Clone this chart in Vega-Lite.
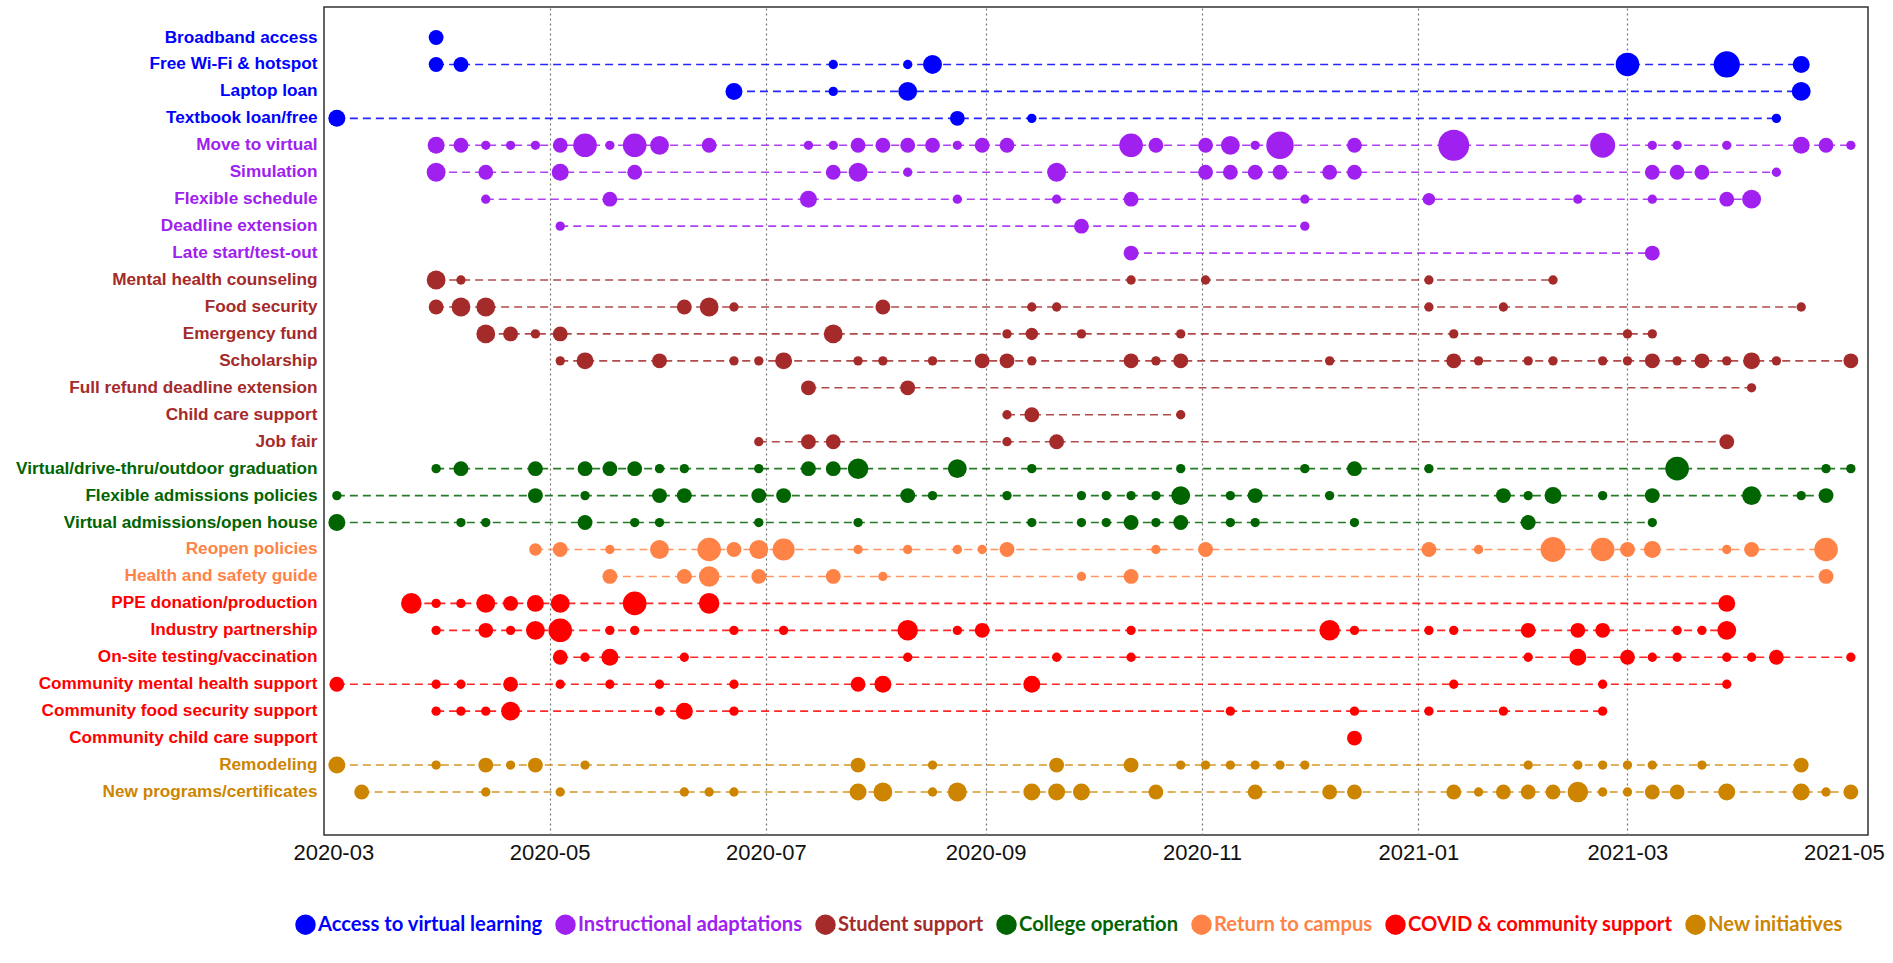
{
"$schema": "https://vega.github.io/schema/vega-lite/v6.json",
"width": 1544,
"height": 828,
"autosize": {"type": "none"},
"padding": {"left": 324, "top": 7, "right": 25, "bottom": 128},
"background": "white",
"config": {"view": {"stroke": "#333333", "strokeWidth": 1.5}},
"data": {"values": [
{"action":"Broadband access","date":"2020-03-30","n":3},
{"action":"Free Wi-Fi & hotspot","date":"2020-03-30","n":3},
{"action":"Free Wi-Fi & hotspot","date":"2020-04-06","n":3},
{"action":"Free Wi-Fi & hotspot","date":"2020-07-20","n":1},
{"action":"Free Wi-Fi & hotspot","date":"2020-08-10","n":1},
{"action":"Free Wi-Fi & hotspot","date":"2020-08-17","n":5},
{"action":"Free Wi-Fi & hotspot","date":"2021-03-01","n":8},
{"action":"Free Wi-Fi & hotspot","date":"2021-03-29","n":10},
{"action":"Free Wi-Fi & hotspot","date":"2021-04-19","n":4},
{"action":"Laptop loan","date":"2020-06-22","n":4},
{"action":"Laptop loan","date":"2020-07-20","n":1},
{"action":"Laptop loan","date":"2020-08-10","n":5},
{"action":"Laptop loan","date":"2021-04-19","n":5},
{"action":"Textbook loan/free","date":"2020-03-02","n":4},
{"action":"Textbook loan/free","date":"2020-08-24","n":3},
{"action":"Textbook loan/free","date":"2020-09-14","n":1},
{"action":"Textbook loan/free","date":"2021-04-12","n":1},
{"action":"Move to virtual","date":"2020-03-30","n":4},
{"action":"Move to virtual","date":"2020-04-06","n":3},
{"action":"Move to virtual","date":"2020-04-13","n":1},
{"action":"Move to virtual","date":"2020-04-20","n":1},
{"action":"Move to virtual","date":"2020-04-27","n":1},
{"action":"Move to virtual","date":"2020-05-04","n":3},
{"action":"Move to virtual","date":"2020-05-11","n":8},
{"action":"Move to virtual","date":"2020-05-18","n":1},
{"action":"Move to virtual","date":"2020-05-25","n":8},
{"action":"Move to virtual","date":"2020-06-01","n":5},
{"action":"Move to virtual","date":"2020-06-15","n":3},
{"action":"Move to virtual","date":"2020-07-13","n":1},
{"action":"Move to virtual","date":"2020-07-20","n":1},
{"action":"Move to virtual","date":"2020-07-27","n":3},
{"action":"Move to virtual","date":"2020-08-03","n":3},
{"action":"Move to virtual","date":"2020-08-10","n":3},
{"action":"Move to virtual","date":"2020-08-17","n":3},
{"action":"Move to virtual","date":"2020-08-24","n":1},
{"action":"Move to virtual","date":"2020-08-31","n":3},
{"action":"Move to virtual","date":"2020-09-07","n":3},
{"action":"Move to virtual","date":"2020-10-12","n":8},
{"action":"Move to virtual","date":"2020-10-19","n":3},
{"action":"Move to virtual","date":"2020-11-02","n":3},
{"action":"Move to virtual","date":"2020-11-09","n":5},
{"action":"Move to virtual","date":"2020-11-16","n":1},
{"action":"Move to virtual","date":"2020-11-23","n":11},
{"action":"Move to virtual","date":"2020-12-14","n":3},
{"action":"Move to virtual","date":"2021-01-11","n":14},
{"action":"Move to virtual","date":"2021-02-22","n":9},
{"action":"Move to virtual","date":"2021-03-08","n":1},
{"action":"Move to virtual","date":"2021-03-15","n":1},
{"action":"Move to virtual","date":"2021-03-29","n":1},
{"action":"Move to virtual","date":"2021-04-19","n":4},
{"action":"Move to virtual","date":"2021-04-26","n":3},
{"action":"Move to virtual","date":"2021-05-03","n":1},
{"action":"Simulation","date":"2020-03-30","n":5},
{"action":"Simulation","date":"2020-04-13","n":3},
{"action":"Simulation","date":"2020-05-04","n":4},
{"action":"Simulation","date":"2020-05-25","n":3},
{"action":"Simulation","date":"2020-07-20","n":3},
{"action":"Simulation","date":"2020-07-27","n":5},
{"action":"Simulation","date":"2020-08-10","n":1},
{"action":"Simulation","date":"2020-09-21","n":5},
{"action":"Simulation","date":"2020-11-02","n":3},
{"action":"Simulation","date":"2020-11-09","n":3},
{"action":"Simulation","date":"2020-11-16","n":3},
{"action":"Simulation","date":"2020-11-23","n":3},
{"action":"Simulation","date":"2020-12-07","n":3},
{"action":"Simulation","date":"2020-12-14","n":3},
{"action":"Simulation","date":"2021-03-08","n":3},
{"action":"Simulation","date":"2021-03-15","n":3},
{"action":"Simulation","date":"2021-03-22","n":3},
{"action":"Simulation","date":"2021-04-12","n":1},
{"action":"Flexible schedule","date":"2020-04-13","n":1},
{"action":"Flexible schedule","date":"2020-05-18","n":3},
{"action":"Flexible schedule","date":"2020-07-13","n":4},
{"action":"Flexible schedule","date":"2020-08-24","n":1},
{"action":"Flexible schedule","date":"2020-09-21","n":1},
{"action":"Flexible schedule","date":"2020-10-12","n":3},
{"action":"Flexible schedule","date":"2020-11-30","n":1},
{"action":"Flexible schedule","date":"2021-01-04","n":2},
{"action":"Flexible schedule","date":"2021-02-15","n":1},
{"action":"Flexible schedule","date":"2021-03-08","n":1},
{"action":"Flexible schedule","date":"2021-03-29","n":3},
{"action":"Flexible schedule","date":"2021-04-05","n":5},
{"action":"Deadline extension","date":"2020-05-04","n":1},
{"action":"Deadline extension","date":"2020-09-28","n":3},
{"action":"Deadline extension","date":"2020-11-30","n":1},
{"action":"Late start/test-out","date":"2020-10-12","n":3},
{"action":"Late start/test-out","date":"2021-03-08","n":3},
{"action":"Mental health counseling","date":"2020-03-30","n":5},
{"action":"Mental health counseling","date":"2020-04-06","n":1},
{"action":"Mental health counseling","date":"2020-10-12","n":1},
{"action":"Mental health counseling","date":"2020-11-02","n":1},
{"action":"Mental health counseling","date":"2021-01-04","n":1},
{"action":"Mental health counseling","date":"2021-02-08","n":1},
{"action":"Food security","date":"2020-03-30","n":3},
{"action":"Food security","date":"2020-04-06","n":5},
{"action":"Food security","date":"2020-04-13","n":5},
{"action":"Food security","date":"2020-06-08","n":3},
{"action":"Food security","date":"2020-06-15","n":5},
{"action":"Food security","date":"2020-06-22","n":1},
{"action":"Food security","date":"2020-08-03","n":3},
{"action":"Food security","date":"2020-09-14","n":1},
{"action":"Food security","date":"2020-09-21","n":1},
{"action":"Food security","date":"2021-01-04","n":1},
{"action":"Food security","date":"2021-01-25","n":1},
{"action":"Food security","date":"2021-04-19","n":1},
{"action":"Emergency fund","date":"2020-04-13","n":5},
{"action":"Emergency fund","date":"2020-04-20","n":3},
{"action":"Emergency fund","date":"2020-04-27","n":1},
{"action":"Emergency fund","date":"2020-05-04","n":3},
{"action":"Emergency fund","date":"2020-07-20","n":5},
{"action":"Emergency fund","date":"2020-09-07","n":1},
{"action":"Emergency fund","date":"2020-09-14","n":2},
{"action":"Emergency fund","date":"2020-09-28","n":1},
{"action":"Emergency fund","date":"2020-10-26","n":1},
{"action":"Emergency fund","date":"2021-01-11","n":1},
{"action":"Emergency fund","date":"2021-03-01","n":1},
{"action":"Emergency fund","date":"2021-03-08","n":1},
{"action":"Scholarship","date":"2020-05-04","n":1},
{"action":"Scholarship","date":"2020-05-11","n":4},
{"action":"Scholarship","date":"2020-06-01","n":3},
{"action":"Scholarship","date":"2020-06-22","n":1},
{"action":"Scholarship","date":"2020-06-29","n":1},
{"action":"Scholarship","date":"2020-07-06","n":4},
{"action":"Scholarship","date":"2020-07-27","n":1},
{"action":"Scholarship","date":"2020-08-03","n":1},
{"action":"Scholarship","date":"2020-08-17","n":1},
{"action":"Scholarship","date":"2020-08-31","n":3},
{"action":"Scholarship","date":"2020-09-07","n":3},
{"action":"Scholarship","date":"2020-09-14","n":1},
{"action":"Scholarship","date":"2020-10-12","n":3},
{"action":"Scholarship","date":"2020-10-19","n":1},
{"action":"Scholarship","date":"2020-10-26","n":3},
{"action":"Scholarship","date":"2020-12-07","n":1},
{"action":"Scholarship","date":"2021-01-11","n":3},
{"action":"Scholarship","date":"2021-01-18","n":1},
{"action":"Scholarship","date":"2021-02-01","n":1},
{"action":"Scholarship","date":"2021-02-08","n":1},
{"action":"Scholarship","date":"2021-02-22","n":1},
{"action":"Scholarship","date":"2021-03-01","n":1},
{"action":"Scholarship","date":"2021-03-08","n":3},
{"action":"Scholarship","date":"2021-03-15","n":1},
{"action":"Scholarship","date":"2021-03-22","n":3},
{"action":"Scholarship","date":"2021-03-29","n":1},
{"action":"Scholarship","date":"2021-04-05","n":4},
{"action":"Scholarship","date":"2021-04-12","n":1},
{"action":"Scholarship","date":"2021-05-03","n":3},
{"action":"Full refund deadline extension","date":"2020-07-13","n":3},
{"action":"Full refund deadline extension","date":"2020-08-10","n":3},
{"action":"Full refund deadline extension","date":"2021-04-05","n":1},
{"action":"Child care support","date":"2020-09-07","n":1},
{"action":"Child care support","date":"2020-09-14","n":3},
{"action":"Child care support","date":"2020-10-26","n":1},
{"action":"Job fair","date":"2020-06-29","n":1},
{"action":"Job fair","date":"2020-07-13","n":3},
{"action":"Job fair","date":"2020-07-20","n":3},
{"action":"Job fair","date":"2020-09-07","n":1},
{"action":"Job fair","date":"2020-09-21","n":3},
{"action":"Job fair","date":"2021-03-29","n":3},
{"action":"Virtual/drive-thru/outdoor graduation","date":"2020-03-30","n":1},
{"action":"Virtual/drive-thru/outdoor graduation","date":"2020-04-06","n":3},
{"action":"Virtual/drive-thru/outdoor graduation","date":"2020-04-27","n":3},
{"action":"Virtual/drive-thru/outdoor graduation","date":"2020-05-11","n":3},
{"action":"Virtual/drive-thru/outdoor graduation","date":"2020-05-18","n":3},
{"action":"Virtual/drive-thru/outdoor graduation","date":"2020-05-25","n":3},
{"action":"Virtual/drive-thru/outdoor graduation","date":"2020-06-01","n":1},
{"action":"Virtual/drive-thru/outdoor graduation","date":"2020-06-08","n":1},
{"action":"Virtual/drive-thru/outdoor graduation","date":"2020-06-29","n":1},
{"action":"Virtual/drive-thru/outdoor graduation","date":"2020-07-13","n":3},
{"action":"Virtual/drive-thru/outdoor graduation","date":"2020-07-20","n":3},
{"action":"Virtual/drive-thru/outdoor graduation","date":"2020-07-27","n":6},
{"action":"Virtual/drive-thru/outdoor graduation","date":"2020-08-24","n":5},
{"action":"Virtual/drive-thru/outdoor graduation","date":"2020-09-14","n":1},
{"action":"Virtual/drive-thru/outdoor graduation","date":"2020-10-26","n":1},
{"action":"Virtual/drive-thru/outdoor graduation","date":"2020-11-30","n":1},
{"action":"Virtual/drive-thru/outdoor graduation","date":"2020-12-14","n":3},
{"action":"Virtual/drive-thru/outdoor graduation","date":"2021-01-04","n":1},
{"action":"Virtual/drive-thru/outdoor graduation","date":"2021-03-15","n":8},
{"action":"Virtual/drive-thru/outdoor graduation","date":"2021-04-26","n":1},
{"action":"Virtual/drive-thru/outdoor graduation","date":"2021-05-03","n":1},
{"action":"Flexible admissions policies","date":"2020-03-02","n":1},
{"action":"Flexible admissions policies","date":"2020-04-27","n":3},
{"action":"Flexible admissions policies","date":"2020-05-11","n":1},
{"action":"Flexible admissions policies","date":"2020-06-01","n":3},
{"action":"Flexible admissions policies","date":"2020-06-08","n":3},
{"action":"Flexible admissions policies","date":"2020-06-29","n":3},
{"action":"Flexible admissions policies","date":"2020-07-06","n":3},
{"action":"Flexible admissions policies","date":"2020-08-10","n":3},
{"action":"Flexible admissions policies","date":"2020-08-17","n":1},
{"action":"Flexible admissions policies","date":"2020-09-07","n":1},
{"action":"Flexible admissions policies","date":"2020-09-28","n":1},
{"action":"Flexible admissions policies","date":"2020-10-05","n":1},
{"action":"Flexible admissions policies","date":"2020-10-12","n":1},
{"action":"Flexible admissions policies","date":"2020-10-19","n":1},
{"action":"Flexible admissions policies","date":"2020-10-26","n":5},
{"action":"Flexible admissions policies","date":"2020-11-09","n":1},
{"action":"Flexible admissions policies","date":"2020-11-16","n":3},
{"action":"Flexible admissions policies","date":"2020-12-07","n":1},
{"action":"Flexible admissions policies","date":"2021-01-25","n":3},
{"action":"Flexible admissions policies","date":"2021-02-01","n":1},
{"action":"Flexible admissions policies","date":"2021-02-08","n":4},
{"action":"Flexible admissions policies","date":"2021-02-22","n":1},
{"action":"Flexible admissions policies","date":"2021-03-08","n":3},
{"action":"Flexible admissions policies","date":"2021-04-05","n":5},
{"action":"Flexible admissions policies","date":"2021-04-19","n":1},
{"action":"Flexible admissions policies","date":"2021-04-26","n":3},
{"action":"Virtual admissions/open house","date":"2020-03-02","n":4},
{"action":"Virtual admissions/open house","date":"2020-04-06","n":1},
{"action":"Virtual admissions/open house","date":"2020-04-13","n":1},
{"action":"Virtual admissions/open house","date":"2020-05-11","n":3},
{"action":"Virtual admissions/open house","date":"2020-05-25","n":1},
{"action":"Virtual admissions/open house","date":"2020-06-01","n":1},
{"action":"Virtual admissions/open house","date":"2020-06-29","n":1},
{"action":"Virtual admissions/open house","date":"2020-07-27","n":1},
{"action":"Virtual admissions/open house","date":"2020-09-14","n":1},
{"action":"Virtual admissions/open house","date":"2020-09-28","n":1},
{"action":"Virtual admissions/open house","date":"2020-10-05","n":1},
{"action":"Virtual admissions/open house","date":"2020-10-12","n":3},
{"action":"Virtual admissions/open house","date":"2020-10-19","n":1},
{"action":"Virtual admissions/open house","date":"2020-10-26","n":3},
{"action":"Virtual admissions/open house","date":"2020-11-09","n":1},
{"action":"Virtual admissions/open house","date":"2020-11-16","n":1},
{"action":"Virtual admissions/open house","date":"2020-12-14","n":1},
{"action":"Virtual admissions/open house","date":"2021-02-01","n":3},
{"action":"Virtual admissions/open house","date":"2021-03-08","n":1},
{"action":"Reopen policies","date":"2020-04-27","n":2},
{"action":"Reopen policies","date":"2020-05-04","n":3},
{"action":"Reopen policies","date":"2020-05-18","n":1},
{"action":"Reopen policies","date":"2020-06-01","n":5},
{"action":"Reopen policies","date":"2020-06-15","n":8},
{"action":"Reopen policies","date":"2020-06-22","n":3},
{"action":"Reopen policies","date":"2020-06-29","n":5},
{"action":"Reopen policies","date":"2020-07-06","n":7},
{"action":"Reopen policies","date":"2020-07-27","n":1},
{"action":"Reopen policies","date":"2020-08-10","n":1},
{"action":"Reopen policies","date":"2020-08-24","n":1},
{"action":"Reopen policies","date":"2020-08-31","n":1},
{"action":"Reopen policies","date":"2020-09-07","n":3},
{"action":"Reopen policies","date":"2020-10-19","n":1},
{"action":"Reopen policies","date":"2020-11-02","n":3},
{"action":"Reopen policies","date":"2021-01-04","n":3},
{"action":"Reopen policies","date":"2021-01-18","n":1},
{"action":"Reopen policies","date":"2021-02-08","n":9},
{"action":"Reopen policies","date":"2021-02-22","n":8},
{"action":"Reopen policies","date":"2021-03-01","n":3},
{"action":"Reopen policies","date":"2021-03-08","n":4},
{"action":"Reopen policies","date":"2021-03-29","n":1},
{"action":"Reopen policies","date":"2021-04-05","n":3},
{"action":"Reopen policies","date":"2021-04-26","n":8},
{"action":"Health and safety guide","date":"2020-05-18","n":3},
{"action":"Health and safety guide","date":"2020-06-08","n":3},
{"action":"Health and safety guide","date":"2020-06-15","n":6},
{"action":"Health and safety guide","date":"2020-06-29","n":3},
{"action":"Health and safety guide","date":"2020-07-20","n":3},
{"action":"Health and safety guide","date":"2020-08-03","n":1},
{"action":"Health and safety guide","date":"2020-09-28","n":1},
{"action":"Health and safety guide","date":"2020-10-12","n":3},
{"action":"Health and safety guide","date":"2021-04-26","n":3},
{"action":"PPE donation/production","date":"2020-03-23","n":6},
{"action":"PPE donation/production","date":"2020-03-30","n":1},
{"action":"PPE donation/production","date":"2020-04-06","n":1},
{"action":"PPE donation/production","date":"2020-04-13","n":5},
{"action":"PPE donation/production","date":"2020-04-20","n":3},
{"action":"PPE donation/production","date":"2020-04-27","n":4},
{"action":"PPE donation/production","date":"2020-05-04","n":5},
{"action":"PPE donation/production","date":"2020-05-25","n":8},
{"action":"PPE donation/production","date":"2020-06-15","n":6},
{"action":"PPE donation/production","date":"2021-03-29","n":4},
{"action":"Industry partnership","date":"2020-03-30","n":1},
{"action":"Industry partnership","date":"2020-04-13","n":3},
{"action":"Industry partnership","date":"2020-04-20","n":1},
{"action":"Industry partnership","date":"2020-04-27","n":5},
{"action":"Industry partnership","date":"2020-05-04","n":8},
{"action":"Industry partnership","date":"2020-05-18","n":1},
{"action":"Industry partnership","date":"2020-05-25","n":1},
{"action":"Industry partnership","date":"2020-06-22","n":1},
{"action":"Industry partnership","date":"2020-07-06","n":1},
{"action":"Industry partnership","date":"2020-08-10","n":6},
{"action":"Industry partnership","date":"2020-08-24","n":1},
{"action":"Industry partnership","date":"2020-08-31","n":3},
{"action":"Industry partnership","date":"2020-10-12","n":1},
{"action":"Industry partnership","date":"2020-12-07","n":6},
{"action":"Industry partnership","date":"2020-12-14","n":1},
{"action":"Industry partnership","date":"2021-01-04","n":1},
{"action":"Industry partnership","date":"2021-01-11","n":1},
{"action":"Industry partnership","date":"2021-02-01","n":3},
{"action":"Industry partnership","date":"2021-02-15","n":3},
{"action":"Industry partnership","date":"2021-02-22","n":3},
{"action":"Industry partnership","date":"2021-03-15","n":1},
{"action":"Industry partnership","date":"2021-03-22","n":1},
{"action":"Industry partnership","date":"2021-03-29","n":5},
{"action":"On-site testing/vaccination","date":"2020-05-04","n":3},
{"action":"On-site testing/vaccination","date":"2020-05-11","n":1},
{"action":"On-site testing/vaccination","date":"2020-05-18","n":4},
{"action":"On-site testing/vaccination","date":"2020-06-08","n":1},
{"action":"On-site testing/vaccination","date":"2020-08-10","n":1},
{"action":"On-site testing/vaccination","date":"2020-09-21","n":1},
{"action":"On-site testing/vaccination","date":"2020-10-12","n":1},
{"action":"On-site testing/vaccination","date":"2021-02-01","n":1},
{"action":"On-site testing/vaccination","date":"2021-02-15","n":4},
{"action":"On-site testing/vaccination","date":"2021-03-01","n":3},
{"action":"On-site testing/vaccination","date":"2021-03-08","n":1},
{"action":"On-site testing/vaccination","date":"2021-03-15","n":1},
{"action":"On-site testing/vaccination","date":"2021-03-29","n":1},
{"action":"On-site testing/vaccination","date":"2021-04-05","n":1},
{"action":"On-site testing/vaccination","date":"2021-04-12","n":3},
{"action":"On-site testing/vaccination","date":"2021-05-03","n":1},
{"action":"Community mental health support","date":"2020-03-02","n":3},
{"action":"Community mental health support","date":"2020-03-30","n":1},
{"action":"Community mental health support","date":"2020-04-06","n":1},
{"action":"Community mental health support","date":"2020-04-20","n":3},
{"action":"Community mental health support","date":"2020-05-04","n":1},
{"action":"Community mental health support","date":"2020-05-18","n":1},
{"action":"Community mental health support","date":"2020-06-01","n":1},
{"action":"Community mental health support","date":"2020-06-22","n":1},
{"action":"Community mental health support","date":"2020-07-27","n":3},
{"action":"Community mental health support","date":"2020-08-03","n":4},
{"action":"Community mental health support","date":"2020-09-14","n":4},
{"action":"Community mental health support","date":"2021-01-11","n":1},
{"action":"Community mental health support","date":"2021-02-22","n":1},
{"action":"Community mental health support","date":"2021-03-29","n":1},
{"action":"Community food security support","date":"2020-03-30","n":1},
{"action":"Community food security support","date":"2020-04-06","n":1},
{"action":"Community food security support","date":"2020-04-13","n":1},
{"action":"Community food security support","date":"2020-04-20","n":5},
{"action":"Community food security support","date":"2020-06-01","n":1},
{"action":"Community food security support","date":"2020-06-08","n":4},
{"action":"Community food security support","date":"2020-06-22","n":1},
{"action":"Community food security support","date":"2020-11-09","n":1},
{"action":"Community food security support","date":"2020-12-14","n":1},
{"action":"Community food security support","date":"2021-01-04","n":1},
{"action":"Community food security support","date":"2021-01-25","n":1},
{"action":"Community food security support","date":"2021-02-22","n":1},
{"action":"Community child care support","date":"2020-12-14","n":3},
{"action":"Remodeling","date":"2020-03-02","n":4},
{"action":"Remodeling","date":"2020-03-30","n":1},
{"action":"Remodeling","date":"2020-04-13","n":3},
{"action":"Remodeling","date":"2020-04-20","n":1},
{"action":"Remodeling","date":"2020-04-27","n":3},
{"action":"Remodeling","date":"2020-05-11","n":1},
{"action":"Remodeling","date":"2020-07-27","n":3},
{"action":"Remodeling","date":"2020-08-17","n":1},
{"action":"Remodeling","date":"2020-09-21","n":3},
{"action":"Remodeling","date":"2020-10-12","n":3},
{"action":"Remodeling","date":"2020-10-26","n":1},
{"action":"Remodeling","date":"2020-11-02","n":1},
{"action":"Remodeling","date":"2020-11-09","n":1},
{"action":"Remodeling","date":"2020-11-16","n":1},
{"action":"Remodeling","date":"2020-11-23","n":1},
{"action":"Remodeling","date":"2020-11-30","n":1},
{"action":"Remodeling","date":"2021-02-01","n":1},
{"action":"Remodeling","date":"2021-02-15","n":1},
{"action":"Remodeling","date":"2021-02-22","n":1},
{"action":"Remodeling","date":"2021-03-01","n":1},
{"action":"Remodeling","date":"2021-03-08","n":1},
{"action":"Remodeling","date":"2021-03-22","n":1},
{"action":"Remodeling","date":"2021-04-19","n":3},
{"action":"New programs/certificates","date":"2020-03-09","n":3},
{"action":"New programs/certificates","date":"2020-04-13","n":1},
{"action":"New programs/certificates","date":"2020-05-04","n":1},
{"action":"New programs/certificates","date":"2020-06-08","n":1},
{"action":"New programs/certificates","date":"2020-06-15","n":1},
{"action":"New programs/certificates","date":"2020-06-22","n":1},
{"action":"New programs/certificates","date":"2020-07-27","n":4},
{"action":"New programs/certificates","date":"2020-08-03","n":5},
{"action":"New programs/certificates","date":"2020-08-17","n":1},
{"action":"New programs/certificates","date":"2020-08-24","n":5},
{"action":"New programs/certificates","date":"2020-09-14","n":4},
{"action":"New programs/certificates","date":"2020-09-21","n":4},
{"action":"New programs/certificates","date":"2020-09-28","n":4},
{"action":"New programs/certificates","date":"2020-10-19","n":3},
{"action":"New programs/certificates","date":"2020-11-16","n":3},
{"action":"New programs/certificates","date":"2020-12-07","n":3},
{"action":"New programs/certificates","date":"2020-12-14","n":3},
{"action":"New programs/certificates","date":"2021-01-11","n":3},
{"action":"New programs/certificates","date":"2021-01-18","n":1},
{"action":"New programs/certificates","date":"2021-01-25","n":3},
{"action":"New programs/certificates","date":"2021-02-01","n":3},
{"action":"New programs/certificates","date":"2021-02-08","n":3},
{"action":"New programs/certificates","date":"2021-02-15","n":6},
{"action":"New programs/certificates","date":"2021-02-22","n":1},
{"action":"New programs/certificates","date":"2021-03-01","n":1},
{"action":"New programs/certificates","date":"2021-03-08","n":3},
{"action":"New programs/certificates","date":"2021-03-15","n":3},
{"action":"New programs/certificates","date":"2021-03-29","n":4},
{"action":"New programs/certificates","date":"2021-04-19","n":4},
{"action":"New programs/certificates","date":"2021-04-26","n":1},
{"action":"New programs/certificates","date":"2021-05-03","n":3}
]},
"transform": [
{"lookup": "action", "from": {"data": {"values": [
{"action":"Broadband access","group":"Access to virtual learning"},
{"action":"Free Wi-Fi & hotspot","group":"Access to virtual learning"},
{"action":"Laptop loan","group":"Access to virtual learning"},
{"action":"Textbook loan/free","group":"Access to virtual learning"},
{"action":"Move to virtual","group":"Instructional adaptations"},
{"action":"Simulation","group":"Instructional adaptations"},
{"action":"Flexible schedule","group":"Instructional adaptations"},
{"action":"Deadline extension","group":"Instructional adaptations"},
{"action":"Late start/test-out","group":"Instructional adaptations"},
{"action":"Mental health counseling","group":"Student support"},
{"action":"Food security","group":"Student support"},
{"action":"Emergency fund","group":"Student support"},
{"action":"Scholarship","group":"Student support"},
{"action":"Full refund deadline extension","group":"Student support"},
{"action":"Child care support","group":"Student support"},
{"action":"Job fair","group":"Student support"},
{"action":"Virtual/drive-thru/outdoor graduation","group":"College operation"},
{"action":"Flexible admissions policies","group":"College operation"},
{"action":"Virtual admissions/open house","group":"College operation"},
{"action":"Reopen policies","group":"Return to campus"},
{"action":"Health and safety guide","group":"Return to campus"},
{"action":"PPE donation/production","group":"COVID & community support"},
{"action":"Industry partnership","group":"COVID & community support"},
{"action":"On-site testing/vaccination","group":"COVID & community support"},
{"action":"Community mental health support","group":"COVID & community support"},
{"action":"Community food security support","group":"COVID & community support"},
{"action":"Community child care support","group":"COVID & community support"},
{"action":"Remodeling","group":"New initiatives"},
{"action":"New programs/certificates","group":"New initiatives"}
]}, "key": "action", "fields": ["group"]}}
],
"encoding": {
"x": {"field": "date", "type": "temporal",
  "scale": {"type": "utc", "domain": [{"year": 2020, "month": 2, "date": 27, "hours": 9, "utc": true}, {"year": 2021, "month": 5, "date": 7, "hours": 20, "utc": true}]},
  "axis": {"title": null, "format": "%Y-%m", "tickCount": {"interval": "month", "step": 2}, "ticks": false, "tickSize": 0, "domain": false,
    "labelPadding": 7, "labelFont": "Liberation Sans", "labelFontSize": 22, "labelColor": "#111111", "labelFlush": false, "labelOverlap": false,
    "grid": true, "gridDash": [2, 3], "gridColor": "#777777", "gridWidth": 1.2,
    "gridOpacity": {"condition": {"test": "datum.value < utc(2020,3,1) || datum.value > utc(2021,3,1)", "value": 0}, "value": 1}}},
"y": {"field": "action", "type": "nominal",
  "scale": {"type": "band", "paddingInner": 0, "paddingOuter": 0.864, "align": 0.366, "round": false, "domain": ["Broadband access","Free Wi-Fi & hotspot","Laptop loan","Textbook loan/free","Move to virtual","Simulation","Flexible schedule","Deadline extension","Late start/test-out","Mental health counseling","Food security","Emergency fund","Scholarship","Full refund deadline extension","Child care support","Job fair","Virtual/drive-thru/outdoor graduation","Flexible admissions policies","Virtual admissions/open house","Reopen policies","Health and safety guide","PPE donation/production","Industry partnership","On-site testing/vaccination","Community mental health support","Community food security support","Community child care support","Remodeling","New programs/certificates"]},
  "axis": {"title": null, "ticks": false, "tickSize": 0, "domain": false, "grid": false, "labelPadding": 7,
    "labelFont": "Liberation Sans", "labelFontWeight": "bold", "labelFontSize": 17.2, "labelLimit": 400,
    "labelColor": {"condition": [
      {"test": "indexof(['Broadband access','Free Wi-Fi & hotspot','Laptop loan','Textbook loan/free'], datum.value) >= 0", "value": "#0000FF"},
      {"test": "indexof(['Move to virtual','Simulation','Flexible schedule','Deadline extension','Late start/test-out'], datum.value) >= 0", "value": "#A020F0"},
      {"test": "indexof(['Mental health counseling','Food security','Emergency fund','Scholarship','Full refund deadline extension','Child care support','Job fair'], datum.value) >= 0", "value": "#A52A2A"},
      {"test": "indexof(['Virtual/drive-thru/outdoor graduation','Flexible admissions policies','Virtual admissions/open house'], datum.value) >= 0", "value": "#006400"},
      {"test": "indexof(['Reopen policies','Health and safety guide'], datum.value) >= 0", "value": "#FF8247"},
      {"test": "indexof(['PPE donation/production','Industry partnership','On-site testing/vaccination','Community mental health support','Community food security support','Community child care support'], datum.value) >= 0", "value": "#FF0000"}
    ], "value": "#CD8500"}}}
},
"layer": [
{"mark": {"type": "line", "strokeDash": [8, 5], "strokeWidth": 1.6, "opacity": 0.85},
 "encoding": {
   "detail": {"field": "action"},
   "stroke": {"field": "group", "type": "nominal", "legend": null,
     "scale": {"domain": ["New initiatives","COVID & community support","Return to campus","College operation","Student support","Instructional adaptations","Access to virtual learning"],
               "range": ["#CD8500","#FF0000","#FF8247","#006400","#A52A2A","#A020F0","#0000FF"]}}}},
{"mark": {"type": "circle", "opacity": 1},
 "encoding": {
   "color": {"field": "group", "type": "nominal",
     "scale": {"domain": ["Access to virtual learning","Instructional adaptations","Student support","College operation","Return to campus","COVID & community support","New initiatives"],
               "range": ["#0000FF","#A020F0","#A52A2A","#006400","#FF8247","#FF0000","#CD8500"]},
     "legend": {"orient": "none", "legendX": -29, "legendY": 907, "direction": "horizontal", "title": null,
       "symbolType": "circle", "symbolSize": 420, "symbolOpacity": 1, "symbolStrokeWidth": 0,
       "labelFont": "Lato", "labelFontWeight": "bold", "labelFontSize": 20.2, "labelLimit": 600, "labelOffset": 2,
       "labelColor": {"expr": "scale('color', datum.value)"},
       "columnPadding": 12}},
   "size": {"field": "n", "type": "quantitative", "legend": null, "scale": {"domain": [0, 14], "range": [20, 958], "zero": false}}}}
]
}
